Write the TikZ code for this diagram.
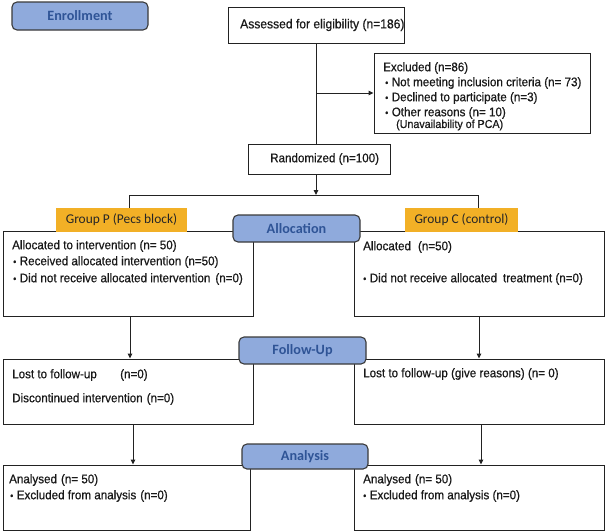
\documentclass[tikz,border=0pt]{standalone}
\usepackage{fontspec}
\setmainfont{Liberation Sans}[FakeStretch=0.93,FakeBold=0.6]
\newfontfamily\calfont{Carlito}
\usetikzlibrary{arrows.meta}
\definecolor{hdrfill}{HTML}{8FAADC}
\definecolor{hdrtext}{HTML}{2F5496}
\definecolor{hdredge}{HTML}{3A3A3A}
\definecolor{grpfill}{HTML}{F2B026}
\definecolor{edge}{HTML}{222222}
\newcommand{\bul}{{\fontsize{9.5}{9}\selectfont\raisebox{0.3pt}{•}}\hspace{3.5pt}}
\begin{document}
\begin{tikzpicture}[x=1pt,y=-1pt,
  box/.style={draw=edge, line width=1pt, fill=white, inner sep=0pt, rectangle},
  hdr/.style={draw=hdredge, line width=1.1pt, fill=hdrfill, rounded corners=5pt, inner sep=0pt,
              font=\calfont\bfseries\fontsize{14.2}{16}\selectfont, text=hdrtext},
  grp/.style={fill=grpfill, inner sep=0pt, font=\calfont\fontsize{13.4}{15}\selectfont, text=black!85},
  txt/.style={anchor=west, inner sep=0pt, font=\fontsize{12.5}{14}\selectfont, text=black!90},
  line/.style={draw=edge, line width=1pt},
  arr/.style={line, -{Triangle[length=5pt,width=4.5pt]}}]
\useasboundingbox (0,0) rectangle (605,531);

% ---- boxes ----
\node[box, minimum width=176pt, minimum height=36pt] (assess) at (316,25) {};
\node[box, minimum width=216pt, minimum height=80pt] (excl) at (482,93) {};
\node[box, minimum width=142pt, minimum height=30pt] (rand) at (319,159) {};
\node[box, minimum width=250pt, minimum height=85pt] (allocL) at (128,273.5) {};
\node[box, minimum width=250pt, minimum height=85pt] (allocR) at (479,273.5) {};
\node[box, minimum width=250pt, minimum height=65pt] (fuL) at (128,391.5) {};
\node[box, minimum width=250pt, minimum height=65pt] (fuR) at (479,391.5) {};
\node[box, minimum width=247pt, minimum height=65pt] (anL) at (126.5,497.5) {};
\node[box, minimum width=250pt, minimum height=65pt] (anR) at (479,497.5) {};

% ---- connectors ----
\coordinate (br) at (316,93);
\coordinate (split) at (316,195);
\coordinate (sL) at (129,195);
\coordinate (sR) at (478,195);
\draw[line] (assess.south) -- (rand.north -| assess.south);
\draw[arr] (br) -- (excl.west |- br);
\draw[arr] (rand.south -| split) -- (split);
\draw[line] (129,208) -- (sL) -- (sR) -- (478,208);
\draw[arr] ([xshift=2pt]allocL.south) -- ([xshift=2pt]allocL.south |- fuL.north);
\draw[arr] (allocR.south) -- (allocR.south |- fuR.north);
\draw[arr] ([xshift=5pt]fuL.south) -- ([xshift=5pt]fuL.south |- anL.north);
\draw[arr] ([xshift=2pt]fuR.south) -- ([xshift=2pt]fuR.south |- anR.north);

% ---- headers / labels ----
\node[hdr, minimum width=136pt, minimum height=28pt] (enroll) at (80,16) {Enrollment};
\node[grp, minimum width=131pt, minimum height=24pt] (grpP) at (121.5,220) {Group P (Pecs block)};
\node[grp, minimum width=113pt, minimum height=24pt] (grpC) at (461.5,220) {Group C (control)};
\node[hdr, minimum width=127pt, minimum height=27pt] (alloc) at (296.5,228.5) {Allocation};
\node[hdr, minimum width=127pt, minimum height=27pt] (follow) at (302.5,350.5) {Follow-Up};
\node[hdr, minimum width=126pt, minimum height=25pt] (analysis) at (305,456.5) {Analysis};

% ---- texts ----
\node[txt, font=\fontsize{13}{14}\selectfont] (tA) at (240,25) {Assessed for eligibility (n=186)};
\node[txt] (tE0) at (383,68) {Excluded (n=86)};
\node[txt] (tE1) at (385,83) {\bul Not meeting inclusion criteria (n= 73)};
\node[txt] (tE2) at (385,98) {\bul Declined to participate (n=3)};
\node[txt] (tE3) at (385,113) {\bul Other reasons (n= 10)};
\node[txt, font=\fontsize{11.5}{12}\selectfont] (tE4) at (396,125) {(Unavailability of PCA)};
\node[txt] (tR) at (270,159) {Randomized (n=100)};

\node[txt] (tL1) at (12,246) {Allocated to intervention (n= 50)};
\node[txt] (tL2) at (13,262) {\bul Received allocated intervention (n=50)};
\node[txt] (tL3) at (13,279) {\bul Did not receive allocated intervention\hspace{5pt}(n=0)};
\node[txt] (tR1) at (363,247) {Allocated\hspace{7pt}(n=50)};
\node[txt] (tR2) at (363,279) {\bul Did not receive allocated\hspace{6pt}treatment (n=0)};

\node[txt] (tF1) at (12,375) {Lost to follow-up};
\node[txt] (tF1b) at (120,375) {(n=0)};
\node[txt] (tF2) at (12,399) {Discontinued intervention\hspace{4pt}(n=0)};
\node[txt] (tF3) at (363,374) {Lost to follow-up (give reasons) (n= 0)};

\node[txt] (tN1) at (9,480) {Analysed\hspace{4pt}(n= 50)};
\node[txt] (tN2) at (10,496) {\bul Excluded from analysis\hspace{4pt}(n=0)};
\node[txt] (tN3) at (363,480) {Analysed\hspace{4pt}(n= 50)};
\node[txt] (tN4) at (363,496) {\bul Excluded from analysis (n=0)};
\end{tikzpicture}
\end{document}
